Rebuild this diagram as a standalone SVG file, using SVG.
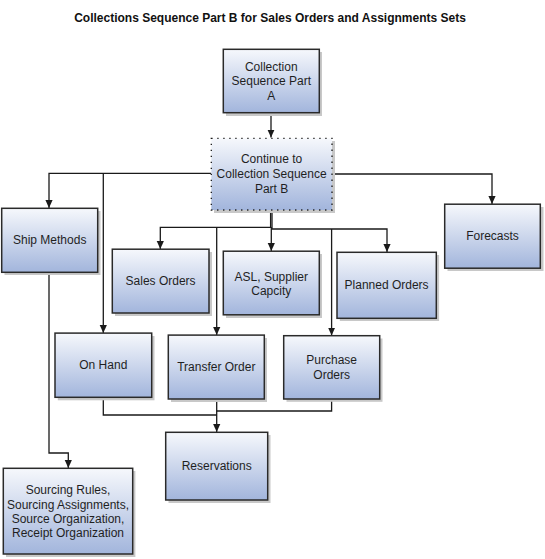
<svg xmlns="http://www.w3.org/2000/svg" width="545" height="559" viewBox="0 0 545 559">
<defs>
<linearGradient id="g" x1="0" y1="0" x2="0" y2="1">
<stop offset="0" stop-color="#f6f8fc"/>
<stop offset="1" stop-color="#a2b5dc"/>
</linearGradient>
<marker id="ah" markerUnits="userSpaceOnUse" markerWidth="8" markerHeight="8" viewBox="0 0 8 8" refX="8" refY="4" orient="auto">
<path d="M0,0.4 L8,4 L0,7.6 z" fill="#1a1a1a"/>
</marker>
<style>
.sh{fill:#c8c8c8;}
.bx{fill:url(#g);stroke:#2a2a2a;stroke-width:1.5;}
.dt{fill:url(#g);stroke:#1a1a1a;stroke-width:1.3;stroke-dasharray:1.3 4.7;}
.t{font-family:"Liberation Sans",Arial,sans-serif;font-size:12px;fill:#1f1f1f;text-anchor:middle;}
.ttl{font-family:"Liberation Sans",Arial,sans-serif;font-size:12px;font-weight:bold;fill:#111;text-anchor:middle;}
.c{fill:none;stroke:#1a1a1a;stroke-width:1.3;}
.ca{fill:none;stroke:#1a1a1a;stroke-width:1.3;marker-end:url(#ah);}
</style>
</defs>
<rect width="545" height="559" fill="#ffffff"/>
<text class="ttl" x="270" y="22">Collections Sequence Part B for Sales Orders and Assignments Sets</text>

<g id="connectors">
<path class="ca" d="M271,113 V137.5"/>
<path class="ca" d="M211,173.3 H49 V208"/>
<path class="ca" d="M103.3,173.3 V333"/>
<path class="ca" d="M332,174 H492 V204"/>
<path class="ca" d="M270.6,210 V227.3 H160.3 V249"/>
<path class="ca" d="M272,210 V229 H387 V252"/>
<path class="ca" d="M271.3,227 V251"/>
<path class="ca" d="M216.7,227.3 V335"/>
<path class="ca" d="M331.6,229 V335.5"/>
<path class="ca" d="M49,272 V453 H68.3 V468"/>
<path class="c" d="M103.3,397 V415 H216.7"/>
<path class="c" d="M331.6,399 V411 H216.7"/>
<path class="ca" d="M216.7,399 V432"/>
</g>

<g id="nodeA">
<rect class="sh" x="226" y="52" width="96" height="64"/>
<rect class="bx" x="223.3" y="49.3" width="96" height="63.4"/>
<text class="t" x="271.3" y="71">Collection</text>
<text class="t" x="271.3" y="85.4">Sequence Part</text>
<text class="t" x="271.3" y="99.8">A</text>
</g>

<g id="nodeContinue">
<rect class="sh" x="214" y="141" width="121" height="72"/>
<rect class="dt" x="211.3" y="138.3" width="120.7" height="71.7"/>
<text class="t" x="271.6" y="163">Continue to</text>
<text class="t" x="271.6" y="178.4">Collection Sequence</text>
<text class="t" x="271.6" y="192.8">Part B</text>
</g>

<g id="nodeShip">
<rect class="sh" x="4.5" y="211" width="96" height="64"/>
<rect class="bx" x="1.7" y="208.3" width="96" height="64"/>
<text class="t" x="49.7" y="244.4">Ship Methods</text>
</g>

<g id="nodeForecasts">
<rect class="sh" x="447.5" y="207" width="96" height="64"/>
<rect class="bx" x="444.7" y="204.2" width="95.6" height="64"/>
<text class="t" x="492.5" y="240.2">Forecasts</text>
</g>

<g id="nodeSales">
<rect class="sh" x="115" y="252" width="97" height="64"/>
<rect class="bx" x="112.3" y="249.2" width="96.7" height="63.8"/>
<text class="t" x="160.6" y="285.4">Sales Orders</text>
</g>

<g id="nodeASL">
<rect class="sh" x="226" y="254" width="96" height="64"/>
<rect class="bx" x="223.3" y="251.2" width="96" height="63.6"/>
<text class="t" x="271.3" y="280.6">ASL, Supplier</text>
<text class="t" x="271.3" y="295">Capcity</text>
</g>

<g id="nodePlanned">
<rect class="sh" x="339.8" y="255" width="99.3" height="66"/>
<rect class="bx" x="337" y="252.3" width="99.3" height="66"/>
<text class="t" x="386.6" y="289">Planned Orders</text>
</g>

<g id="nodeOnHand">
<rect class="sh" x="57.8" y="336" width="96.7" height="64.3"/>
<rect class="bx" x="55" y="333.1" width="96.7" height="64.2"/>
<text class="t" x="103.3" y="369.3">On Hand</text>
</g>

<g id="nodeTransfer">
<rect class="sh" x="171" y="338" width="96" height="64"/>
<rect class="bx" x="168.3" y="335.1" width="96" height="63.9"/>
<text class="t" x="216.3" y="371.3">Transfer Order</text>
</g>

<g id="nodePurchase">
<rect class="sh" x="286.5" y="338.5" width="96" height="63.3"/>
<rect class="bx" x="283.7" y="335.7" width="96" height="63.3"/>
<text class="t" x="331.7" y="364.3">Purchase</text>
<text class="t" x="331.7" y="378.5">Orders</text>
</g>

<g id="nodeReservations">
<rect class="sh" x="168.5" y="435" width="102" height="68"/>
<rect class="bx" x="165.7" y="432.3" width="102" height="67.7"/>
<text class="t" x="216.7" y="470">Reservations</text>
</g>

<g id="nodeSourcing">
<rect class="sh" x="6" y="471" width="129.4" height="86"/>
<rect class="bx" x="3.3" y="468.3" width="129.4" height="85.7"/>
<text class="t" x="68" y="494.3">Sourcing Rules,</text>
<text class="t" x="68" y="508.6">Sourcing Assignments,</text>
<text class="t" x="68" y="522.6">Source Organization,</text>
<text class="t" x="68" y="536.6">Receipt Organization</text>
</g>
</svg>
